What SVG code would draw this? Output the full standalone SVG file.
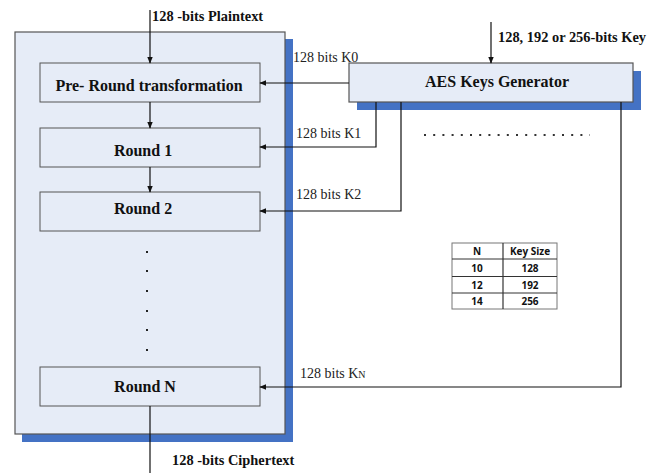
<svg xmlns="http://www.w3.org/2000/svg" width="661" height="473" viewBox="0 0 661 473">
<style>
.shadow{fill:#4472C4}
.box{fill:#E6ECF7;stroke:#555;stroke-width:1.2}
.rbox{fill:#E6ECF7;stroke:#555;stroke-width:1}
.lbl{font-family:"Liberation Serif",serif;font-weight:bold;font-size:16px;fill:#111;text-anchor:middle}
.io{font-family:"Liberation Serif",serif;font-weight:bold;font-size:14.4px;fill:#111}
.k{font-family:"Liberation Serif",serif;font-size:14px;fill:#222}
.ln{fill:none;stroke:#111;stroke-width:1.2}
.tt{font-family:"Open Sans","Liberation Sans",sans-serif;font-weight:bold;font-size:10px;fill:#111;text-anchor:middle}
.tl{stroke:#333;stroke-width:1}
</style>
<defs>
<marker id="ah" viewBox="0 0 10 10" refX="9" refY="5" markerWidth="7" markerHeight="7" orient="auto" markerUnits="userSpaceOnUse">
<path d="M0,1 L10,5 L0,9 Z" fill="#111"/>
</marker>
</defs>
<g id="outer">
<rect class="shadow" x="22" y="39" width="271" height="403"/>
<rect class="box" x="15" y="32" width="270" height="402"/>
</g>
<g id="keygen">
<rect class="shadow" x="357" y="71" width="284" height="39"/>
<rect class="box" x="349" y="63" width="284" height="39"/>
<text class="lbl" x="497" y="87" font-size="15.5">AES Keys Generator</text>
</g>
<g id="preround">
<rect class="rbox" x="40" y="63" width="220" height="39"/>
<text class="lbl" x="149" y="91" font-size="16.4">Pre- Round transformation</text>
</g>
<g id="round1">
<rect class="rbox" x="40" y="128" width="220" height="39"/>
<text class="lbl" x="143" y="156">Round 1</text>
</g>
<g id="round2">
<rect class="rbox" x="40" y="192" width="220" height="39"/>
<text class="lbl" x="143" y="214">Round 2</text>
</g>
<g id="roundN">
<rect class="rbox" x="40" y="367" width="220" height="39"/>
<text class="lbl" x="145" y="392">Round N</text>
</g>
<g id="vdots" fill="#222">
<rect x="146" y="251" width="2" height="2"/>
<rect x="146" y="270" width="2" height="2"/>
<rect x="146" y="290" width="2" height="2"/>
<rect x="146" y="310" width="2" height="2"/>
<rect x="146" y="329" width="2" height="2"/>
<rect x="146" y="349" width="2" height="2"/>
</g>
<g id="hdots">
<line x1="424" y1="135" x2="590" y2="135" stroke="#333" stroke-width="2" stroke-dasharray="2 7.2"/>
</g>
<g id="keytable">
<rect x="452" y="243" width="105" height="66" fill="#fff" stroke="#777" stroke-width="1"/>
<line class="tl" x1="452" y1="259" x2="557" y2="259"/>
<line class="tl" x1="452" y1="276.5" x2="557" y2="276.5"/>
<line class="tl" x1="452" y1="293" x2="557" y2="293"/>
<line x1="503" y1="243" x2="503" y2="309" stroke="#333" stroke-width="1.2"/>
<text class="tt" x="477" y="255">N</text>
<text class="tt" x="530" y="255">Key Size</text>
<text class="tt" x="477" y="272">10</text>
<text class="tt" x="530" y="272">128</text>
<text class="tt" x="477" y="289">12</text>
<text class="tt" x="530" y="289">192</text>
<text class="tt" x="477" y="305">14</text>
<text class="tt" x="530" y="305">256</text>
</g>
<g id="connectors">
<line class="ln" x1="150" y1="10" x2="150" y2="63" marker-end="url(#ah)"/>
<line class="ln" x1="150" y1="102" x2="150" y2="128" marker-end="url(#ah)"/>
<line class="ln" x1="150" y1="167" x2="150" y2="192" marker-end="url(#ah)"/>
<line class="ln" x1="150" y1="406" x2="150" y2="473"/>
<line class="ln" x1="491" y1="22" x2="491" y2="63" marker-end="url(#ah)"/>
<line class="ln" x1="349" y1="83" x2="260" y2="83" marker-end="url(#ah)"/>
<polyline class="ln" points="376,102 376,147 260,147" marker-end="url(#ah)"/>
<polyline class="ln" points="401,102 401,211 260,211" marker-end="url(#ah)"/>
<polyline class="ln" points="621,102 621,387 260,387" marker-end="url(#ah)"/>
<text class="io" x="152" y="21">128 -bits Plaintext</text>
<text class="io" x="498" y="42">128, 192 or 256-bits Key</text>
<text class="io" x="172" y="465">128 -bits Ciphertext</text>
<text class="k" x="293" y="62">128 bits K0</text>
<text class="k" x="296" y="138">128 bits K1</text>
<text class="k" x="296" y="199">128 bits K2</text>
<text class="k" x="300" y="378">128 bits K<tspan font-size="10">N</tspan></text>
</g>
</svg>
